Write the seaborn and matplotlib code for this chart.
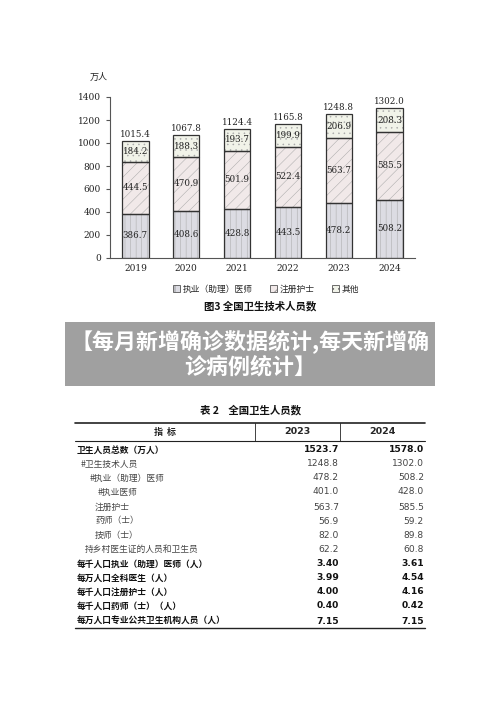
import numpy as np
import pandas as pd
import seaborn as sns
import matplotlib
matplotlib.use('Agg')
import matplotlib.pyplot as plt
from matplotlib.patches import Patch, Rectangle
from matplotlib.lines import Line2D

years = ['2019', '2020', '2021', '2022', '2023', '2024']
doctors = [386.7, 408.6, 428.8, 443.5, 478.2, 508.2]
nurses = [444.5, 470.9, 501.9, 522.4, 563.7, 585.5]
others = [184.2, 188.3, 193.7, 199.9, 206.9, 208.3]
totals = [1015.4, 1067.8, 1124.4, 1165.8, 1248.8, 1302.0]
series_names = ['执业（助理）医师', '注册护士', '其他']

row_labels = ['卫生人员总数（万人）', '#卫生技术人员', '#执业（助理）医师', '#执业医师',
              '注册护士', '药师（士）', '技师（士）', '持乡村医生证的人员和卫生员',
              '每千人口执业（助理）医师（人）', '每万人口全科医生（人）',
              '每千人口注册护士（人）', '每千人口药师（士）（人）',
              '每万人口专业公共卫生机构人员（人）']
row_x = [77, 81, 90, 98, 95, 95, 95, 85, 77, 77, 77, 77, 77]
row_bold = [True, False, False, False, False, False, False, False, True, True, True, True, True]
vals_2023 = ['1523.7', '1248.8', '478.2', '401.0', '563.7', '56.9', '82.0', '62.2',
             '3.40', '3.99', '4.00', '0.40', '7.15']
vals_2024 = ['1578.0', '1302.0', '508.2', '428.0', '585.5', '59.2', '89.8', '60.8',
             '3.61', '4.54', '4.16', '0.42', '7.15']

sns.set_style('white')
plt.rcParams['font.family'] = ['Noto Sans CJK SC', 'DejaVu Sans']
plt.rcParams['hatch.linewidth'] = 0.35

W, H = 500, 707
fig = plt.figure(figsize=(W / 100, H / 100), dpi=100)


def fx(x):
    return x / W


def fy(y):
    return 1 - y / H


# ---------- bar chart ----------
ax = fig.add_axes([fx(110), fy(258), fx(415) - fx(110), fy(97) - fy(258)])
df = pd.DataFrame({'year': years, 'doc': doctors, 'nur': nurses, 'oth': others})
df['b2'] = df['doc'] + df['nur']
colors = ['#dcdce3', '#f1e9e9', '#f1f3e9']
hatches = ['|||', '///', '...']
bottoms = [None, 'doc', 'b2']
for col, c, h, b in zip(['doc', 'nur', 'oth'], colors, hatches, bottoms):
    kw = {} if b is None else {'bottom': df[b]}
    sns.barplot(data=df, x='year', y=col, color=c, width=0.52, ax=ax,
                edgecolor='#a8a8a8', linewidth=0, hatch=h, saturation=1, **kw)
# dark outlines on top of the lightly hatched bars
for p in list(ax.patches):
    ax.add_patch(Rectangle(p.get_xy(), p.get_width(), p.get_height(), fill=False,
                           edgecolor='#333333', linewidth=0.9))

num_font = {'family': ['DejaVu Serif'], 'size': 6.3, 'color': '#222222'}
for i in range(len(years)):
    ax.text(i, doctors[i] / 2, f'{doctors[i]:.1f}', ha='center', va='center', fontdict=num_font)
    ax.text(i, doctors[i] + nurses[i] / 2, f'{nurses[i]:.1f}', ha='center', va='center', fontdict=num_font)
    ax.text(i, doctors[i] + nurses[i] + others[i] / 2, f'{others[i]:.1f}', ha='center', va='center', fontdict=num_font)
    ax.text(i, totals[i] + 18, f'{totals[i]:.1f}', ha='center', va='bottom', fontdict=num_font)

ax.set_xlim(-0.5, 5.5)
ax.set_ylim(0, 1400)
ax.set_yticks(np.arange(0, 1401, 200))
ax.set_xlabel('')
ax.set_ylabel('')
for s in ['top', 'right']:
    ax.spines[s].set_visible(False)
for s in ['left', 'bottom']:
    ax.spines[s].set_color('#555555')
    ax.spines[s].set_linewidth(0.8)
ax.set_xticks(np.arange(-0.5, 5.6, 1), minor=True)
ax.tick_params(axis='x', which='major', length=0, labelsize=6.5, pad=4)
ax.tick_params(axis='x', which='minor', length=3, direction='out', color='#555555')
ax.tick_params(axis='y', length=3, direction='out', color='#555555', labelsize=6.5, left=True)
for lab in ax.get_xticklabels() + ax.get_yticklabels():
    lab.set_fontfamily(['DejaVu Serif'])
    lab.set_color('#222222')

fig.text(fx(90), fy(77), '万人', fontsize=6.5, ha='left', va='center', color='#222222')

handles = [Patch(facecolor=c, edgecolor='#555555', hatch=h, linewidth=0.6)
           for c, h in zip(colors, hatches)]
fig.legend(handles, series_names, loc='center', bbox_to_anchor=(fx(266), fy(289)),
           ncol=3, frameon=False, fontsize=6.3, handlelength=0.8, handleheight=0.8,
           columnspacing=2.0, handletextpad=0.3)
fig.text(fx(260), fy(306), '图3 全国卫生技术人员数', fontsize=7.5, fontweight='bold',
         ha='center', va='center', color='#111111')

# ---------- banner ----------
fig.patches.append(Rectangle((fx(65), fy(386)), fx(435) - fx(65), fy(322) - fy(386),
                             transform=fig.transFigure, facecolor='#a0a0a0', edgecolor='none'))
fig.text(fx(250), fy(342), '【每月新增确诊数据统计,每天新增确', fontsize=15.8, fontweight='bold',
         color='white', ha='center', va='center')
fig.text(fx(250), fy(367), '诊病例统计】', fontsize=15.8, fontweight='bold',
         color='white', ha='center', va='center')

# ---------- table ----------
fig.text(fx(250), fy(410), '表 2    全国卫生人员数', fontsize=7.5, fontweight='bold',
         ha='center', va='center', color='#111111')


def hline(y, x0, x1, lw):
    fig.add_artist(Line2D([fx(x0), fx(x1)], [fy(y), fy(y)], transform=fig.transFigure,
                          color='#222222', linewidth=lw))


def vline(x, y0, y1, lw):
    fig.add_artist(Line2D([fx(x), fx(x)], [fy(y0), fy(y1)], transform=fig.transFigure,
                          color='#222222', linewidth=lw))


hline(423, 75, 425, 1.2)
hline(441, 75, 425, 0.8)
hline(628, 75, 425, 1.0)
vline(255, 423, 441, 0.6)
vline(340, 423, 441, 0.6)

fig.text(fx(165), fy(432), '指  标', fontsize=6.5, fontweight='bold', ha='center', va='center')
fig.text(fx(297), fy(432), '2023', fontsize=6.8, fontweight='bold', ha='center', va='center',
         family=['DejaVu Sans'])
fig.text(fx(382), fy(432), '2024', fontsize=6.8, fontweight='bold', ha='center', va='center',
         family=['DejaVu Sans'])

row_y = [450, 464, 478, 492, 507, 521, 535, 549, 564, 578, 592, 606, 621]
for i, lab in enumerate(row_labels):
    w = 'bold' if row_bold[i] else 'normal'
    col = '#111111' if row_bold[i] else '#444444'
    fig.text(fx(row_x[i]), fy(row_y[i]), lab, fontsize=6.3, fontweight=w, ha='left', va='center', color=col)
    fig.text(fx(339), fy(row_y[i]), vals_2023[i], fontsize=6.6, fontweight=w, ha='right',
             va='center', color=col, family=['DejaVu Sans'])
    fig.text(fx(424), fy(row_y[i]), vals_2024[i], fontsize=6.6, fontweight=w, ha='right',
             va='center', color=col, family=['DejaVu Sans'])

fig.savefig('out.png', dpi=100, facecolor='white')
